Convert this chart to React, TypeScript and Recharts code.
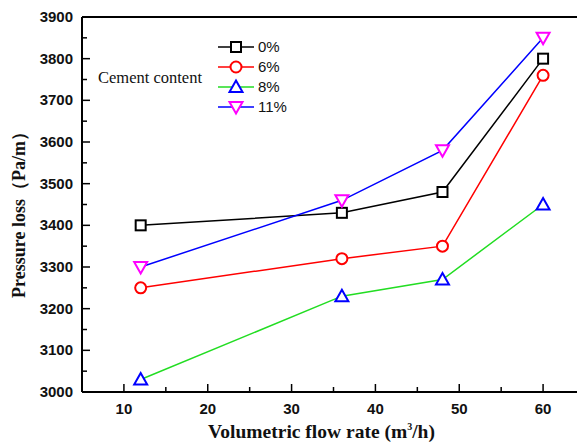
import { CartesianGrid, Line, LineChart, ReferenceLine, XAxis, YAxis } from 'recharts'

const FLOW = [12, 36, 48, 60]
const CEMENT_0 = [3400, 3430, 3480, 3800]
const CEMENT_6 = [3250, 3320, 3350, 3760]
const CEMENT_8 = [3030, 3230, 3270, 3450]
const CEMENT_11 = [3300, 3460, 3580, 3850]

const X_TICKS = [10, 15, 20, 25, 30, 35, 40, 45, 50, 55, 60]
const Y_TICKS = [3000, 3050, 3100, 3150, 3200, 3250, 3300, 3350, 3400, 3450, 3500, 3550, 3600, 3650, 3700, 3750, 3800, 3850, 3900]

type Shape = 'square' | 'circle' | 'up' | 'down'
type Series = { key: string; label: string; values: number[]; line: string; marker: string; shape: Shape }

const SERIES: Series[] = [
	{ key: 'c0', label: '0%', values: CEMENT_0, line: '#000000', marker: '#000000', shape: 'square' },
	{ key: 'c6', label: '6%', values: CEMENT_6, line: '#ff0000', marker: '#ff0000', shape: 'circle' },
	{ key: 'c8', label: '8%', values: CEMENT_8, line: '#22dd22', marker: '#0000ff', shape: 'up' },
	{ key: 'c11', label: '11%', values: CEMENT_11, line: '#0000ff', marker: '#ff00ff', shape: 'down' },
]

const rows = FLOW.map((f, i) => {
	const row: Record<string, number> = { flow: f }
	SERIES.forEach((s) => (row[s.key] = s.values[i]))
	return row
})

const TICK_FONT = { fontFamily: '"Liberation Sans", Arial, sans-serif', fontWeight: 700, fontSize: 15, fill: '#111' }
const SERIF = '"Liberation Serif", "Times New Roman", serif'

function Marker({ cx, cy, shape, color }: { cx: number; cy: number; shape: Shape; color: string }) {
	const common = { fill: '#fff', stroke: color, strokeWidth: 2 }
	if (shape === 'square') return <rect x={cx - 5} y={cy - 5} width={10} height={10} {...common} />
	if (shape === 'circle') return <circle cx={cx} cy={cy} r={5.5} {...common} />
	if (shape === 'up') return <path d={`M${cx},${cy - 6.5} L${cx + 6.5},${cy + 5} L${cx - 6.5},${cy + 5} Z`} {...common} />
	return <path d={`M${cx},${cy + 6.5} L${cx + 6.5},${cy - 5} L${cx - 6.5},${cy - 5} Z`} {...common} />
}

function YTick(props: any) {
	const { x, y, payload } = props
	const major = payload.value % 100 === 0
	return (
		<g>
			<line x1={x} x2={x + (major ? 8 : 5)} y1={y} y2={y} stroke='#000' strokeWidth={1.5} />
			{major && (
				<text x={x - 9} y={y + 5} textAnchor='end' {...TICK_FONT}>
					{payload.value}
				</text>
			)}
		</g>
	)
}

function XTick(props: any) {
	const { x, y, payload } = props
	const major = payload.value % 10 === 0
	return (
		<g>
			<line x1={x} x2={x} y1={y} y2={y - (major ? 8 : 5)} stroke='#000' strokeWidth={1.5} />
			{major && (
				<text x={x} y={y + 22} textAnchor='middle' {...TICK_FONT}>
					{payload.value}
				</text>
			)}
		</g>
	)
}

function Legend() {
	return (
		<svg width={300} height={130} style={{ position: 'absolute', left: 0, top: 0 }}>
			<text x={98} y={83} fontFamily={SERIF} fontSize={16.5} fill='#111'>
				Cement content
			</text>
			{SERIES.map((s, i) => {
				const y = 47 + i * 20
				return (
					<g key={s.key}>
						<line x1={218} x2={254} y1={y} y2={y} stroke={s.line} strokeWidth={1.5} />
						<Marker cx={236} cy={y} shape={s.shape} color={s.marker} />
						<text x={258} y={y + 5} fontFamily='"Liberation Sans", Arial, sans-serif' fontSize={15} fill='#111'>
							{s.label}
						</text>
					</g>
				)
			})}
		</svg>
	)
}

export default function App() {
	return (
		<div style={{ position: 'fixed', left: 0, top: 0, width: 577, height: 445, overflow: 'hidden', background: '#fff' }}>
			<LineChart width={585} height={445} data={rows} margin={{ top: 17, right: 0, bottom: 0, left: 0 }}>
				<CartesianGrid stroke='none' />
				<XAxis
					dataKey='flow'
					type='number'
					domain={[5, 65]}
					ticks={X_TICKS}
					interval={0}
					height={53}
					tickSize={0}
					tickMargin={0}
					tick={<XTick />}
					axisLine={{ stroke: '#000', strokeWidth: 2 }}
					tickLine={false}
					label={{
						content: ({ viewBox }: any) => (
							<text
								x={viewBox.x + viewBox.width / 2 - 12}
								y={viewBox.y + 46}
								textAnchor='middle'
								fontFamily={SERIF}
								fontWeight={700}
								fontSize={19.5}
								fill='#111'
							>
								Volumetric flow rate (m
								<tspan dy={-8} fontSize={10}>
									3
								</tspan>
								<tspan dy={8}>/h)</tspan>
							</text>
						),
					}}
				/>
				<YAxis
					type='number'
					domain={[3000, 3900]}
					ticks={Y_TICKS}
					interval={0}
					width={82}
					tickSize={0}
					tickMargin={0}
					tick={<YTick />}
					axisLine={{ stroke: '#000', strokeWidth: 2 }}
					tickLine={false}
					label={{
						content: ({ viewBox }: any) => {
							const cx = 19
							const cy = viewBox.y + viewBox.height / 2 + 6
							return (
								<text
									x={cx}
									y={cy}
									transform={`rotate(-90, ${cx}, ${cy})`}
									textAnchor='middle'
									dominantBaseline='central'
									fontFamily={SERIF}
									fontWeight={700}
									fontSize={18}
									fill='#111'
								>
									Pressure loss（Pa/m）
								</text>
							)
						},
					}}
				/>
				<ReferenceLine y={3900} stroke='#000' strokeWidth={2} />
				{SERIES.map((s) => (
					<Line
						key={s.key}
						dataKey={s.key}
						stroke={s.line}
						strokeWidth={1.5}
						isAnimationActive={false}
						dot={(p: any) => <Marker key={`${s.key}-${p.index}`} cx={p.cx} cy={p.cy} shape={s.shape} color={s.marker} />}
						activeDot={false}
					/>
				))}
			</LineChart>
			<Legend />
		</div>
	)
}
